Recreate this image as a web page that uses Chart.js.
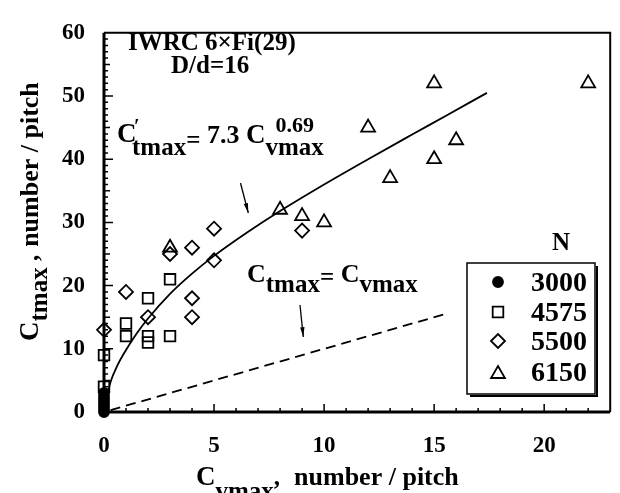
<!DOCTYPE html>
<html>
<head>
<meta charset="utf-8">
<script src="https://cdn.jsdelivr.net/npm/chart.js@4/dist/chart.umd.min.js"></script>
<style>
  html, body { margin: 0; padding: 0; background: #fff; }
  canvas { display: block; }
</style>
</head>
<body>
<canvas id="grafico" width="620" height="493"></canvas>
<script>
// tensile vs. transverse wire breaks per pitch, IWRC 6xFi(29), D/d=16
const n3000X = [0, 0, 0, 0, 0, 0, 0];
const n3000Y = [0, 0.5, 1, 1.5, 2, 2.5, 3];

const n4575X = [0, 0, 1, 1, 2, 2, 2, 3, 3];
const n4575Y = [9, 4, 14, 12, 18, 12, 11, 21, 12];

const n5500X = [0, 1, 2, 3, 4, 4, 4, 5, 5, 9];
const n5500Y = [13, 19, 15, 25, 26, 18, 15, 29, 24, 28.7];

const n6150X = [3, 8, 9, 10, 12, 13, 15, 15, 16, 22];
const n6150Y = [26, 32, 31, 30, 45, 37, 52, 40, 43, 52];

// fitted curve C't = 7.3 Cv^0.69 as traced on the plot
const ajusteX = [0.1, 0.3, 0.6, 1, 1.5, 2, 3, 4, 5, 6.5, 8, 10, 12, 14, 15.5, 17.4];
const ajusteY = [2, 4.8, 7.3, 9.8, 12.5, 14.8, 18.7, 21.9, 24.7, 28.4, 31.8, 36, 40, 43.9, 46.8, 50.5];

// Ct = Cv reference line
const unidadeX = [0.3, 15.5];
const unidadeY = [0.3, 15.5];

const xTicks = [0, 5, 10, 15, 20];
const yTicks = [0, 10, 20, 30, 40, 50, 60];
const legendaTitulo = 'N';

const SERIF = '"Liberation Serif", "DejaVu Serif", serif';

function pontos(xs, ys) {
   return xs.map((x, i) => ({ x: x, y: ys[i] }));
}

function fonte(size) {
   return 'bold ' + size + 'px ' + SERIF;
}

// draws a run of text pieces: [text, size, dx, baselineY]
function textoRico(ctx, x, partes) {
   var cx = x;
   partes.forEach(p => {
      ctx.font = fonte(p[1]);
      cx += p[2] || 0;
      ctx.fillText(p[0], cx, p[3]);
      cx += ctx.measureText(p[0]).width;
   });
   return cx;
}

const eixosPlugin = {
   id: 'eixos',
   afterDatasetsDraw(chart) {
      const ctx = chart.ctx;
      const a = chart.chartArea;
      const sx = chart.scales.x;
      const sy = chart.scales.y;
      ctx.save();
      ctx.strokeStyle = '#000';
      ctx.lineCap = 'butt';

      // frame
      ctx.lineWidth = 2;
      ctx.beginPath();
      ctx.moveTo(a.left, a.top);
      ctx.lineTo(a.right, a.top);
      ctx.lineTo(a.right, a.bottom);
      ctx.stroke();
      ctx.lineWidth = 3;
      ctx.beginPath();
      ctx.moveTo(a.left, a.top);
      ctx.lineTo(a.left, a.bottom);
      ctx.lineTo(a.right, a.bottom);
      ctx.stroke();

      // inward ticks
      ctx.lineWidth = 1.5;
      ctx.beginPath();
      for (let v = 1; v <= 22; v++) {
         const px = sx.getPixelForValue(v);
         const len = v % 5 === 0 ? 8 : 4;
         ctx.moveTo(px, a.bottom);
         ctx.lineTo(px, a.bottom - len);
      }
      for (let v = 1; v < 60; v++) {
         const py = sy.getPixelForValue(v);
         const len = v % 10 === 0 ? 9 : (v % 5 === 0 ? 6 : 4);
         ctx.moveTo(a.left, py);
         ctx.lineTo(a.left + len, py);
      }
      ctx.stroke();
      ctx.restore();
   },
   afterDraw(chart) {
      const ctx = chart.ctx;
      ctx.save();
      ctx.fillStyle = '#000';
      ctx.strokeStyle = '#000';
      ctx.textBaseline = 'alphabetic';
      ctx.textAlign = 'left';

      // axis titles
      textoRico(ctx, 196, [['C', 27, 0, 485], ['vmax', 25, 0, 499], [',', 25, 0, 485], ['number / pitch', 26, 14, 485]]);

      ctx.save();
      ctx.translate(38, 341);
      ctx.rotate(-Math.PI / 2);
      textoRico(ctx, 0, [['C', 27, 0, 0], ['tmax', 25, 0, 9], [' ,', 25, 0, 0], ['number / pitch', 26, 8, 0]]);
      ctx.restore();

      // header
      ctx.font = fonte(25);
      ctx.fillText('IWRC 6\u00D7Fi(29)', 128, 50);
      ctx.fillText('D/d=16', 171, 73);

      // fitted equation
      textoRico(ctx, 117, [['C', 27, 0, 142]]);
      ctx.font = fonte(20);
      ctx.fillText('\u2032', 134, 133);
      var px = textoRico(ctx, 132, [['tmax', 25, 0, 155]]);
      px = textoRico(ctx, px, [['=', 25, 0, 148], [' 7.3 ', 26, 0, 143], ['C', 27, 0, 143]]);
      textoRico(ctx, px, [['vmax', 25, 0, 155]]);
      textoRico(ctx, px + 10, [['0.69', 22, 0, 132]]);

      // unity line label
      textoRico(ctx, 247, [['C', 26, 0, 282], ['tmax', 25, 0, 292], ['=', 25, 0, 285], [' C', 26, 0, 282], ['vmax', 25, 0, 292]]);

      // arrows
      function seta(x1, y1, x2, y2) {
         const ang = Math.atan2(y2 - y1, x2 - x1);
         ctx.lineWidth = 1.3;
         ctx.beginPath();
         ctx.moveTo(x1, y1);
         ctx.lineTo(x2, y2);
         ctx.stroke();
         ctx.beginPath();
         ctx.moveTo(x2, y2);
         ctx.lineTo(x2 - 10 * Math.cos(ang - 0.22), y2 - 10 * Math.sin(ang - 0.22));
         ctx.lineTo(x2 - 10 * Math.cos(ang + 0.22), y2 - 10 * Math.sin(ang + 0.22));
         ctx.closePath();
         ctx.fill();
      }
      seta(240.5, 183, 248.3, 213);
      seta(300, 305, 303.3, 337);

      // legend
      const bx = 467, by = 263, bw = 128, bh = 131;
      ctx.lineWidth = 1.5;
      ctx.strokeRect(bx, by, bw, bh);
      ctx.lineWidth = 2;
      ctx.beginPath();
      ctx.moveTo(bx + 3, by + bh + 2);
      ctx.lineTo(bx + bw + 2, by + bh + 2);
      ctx.lineTo(bx + bw + 2, by + 3);
      ctx.stroke();

      ctx.font = fonte(25);
      ctx.textAlign = 'center';
      ctx.fillText(legendaTitulo, 561, 250);

      const linhas = [282, 312, 341, 372];
      chart.data.datasets.forEach((ds, i) => {
         if (!ds.serie) return;
         const y = linhas[i];
         ctx.fillStyle = ds.backgroundColor;
         ctx.strokeStyle = '#000';
         ctx.lineWidth = ds.borderWidth;
         Chart.helpers.drawPoint(ctx, {
            pointStyle: ds.pointStyle,
            radius: ds.pointRadius,
            borderWidth: ds.borderWidth,
            rotation: 0
         }, 498, ds.pointStyle === 'triangle' ? y + 2 : y);
         ctx.fillStyle = '#000';
         ctx.textAlign = 'right';
         ctx.font = fonte(28);
         ctx.fillText(ds.label, 587, y + 9);
      });
      ctx.restore();
   }
};

function serie(label, xs, ys, estilo, raio, preenchido) {
   return {
      type: 'scatter',
      serie: true,
      label: label,
      data: pontos(xs, ys),
      pointStyle: estilo,
      pointRadius: raio,
      pointHoverRadius: raio,
      borderWidth: 1.8,
      borderColor: '#000',
      backgroundColor: preenchido ? '#000' : 'rgba(0,0,0,0)',
      showLine: false,
      clip: false
   };
}

var ctx = document.getElementById('grafico');
new Chart(ctx, {
   type: 'scatter',
   data: {
      datasets: [
         serie('3000', n3000X, n3000Y, 'circle', 5, true),
         serie('4575', n4575X, n4575Y, 'rect', 7.5, false),
         serie('5500', n5500X, n5500Y, 'rectRot', 7, false),
         serie('6150', n6150X, n6150Y, 'triangle', 8, false),
         {
            type: 'line',
            label: 'ajuste',
            data: pontos(ajusteX, ajusteY),
            borderColor: '#000',
            borderWidth: 1.8,
            pointRadius: 0,
            cubicInterpolationMode: 'monotone',
            fill: false
         },
         {
            type: 'line',
            label: 'unidade',
            data: pontos(unidadeX, unidadeY),
            borderColor: '#000',
            borderWidth: 1.8,
            borderDash: [10, 6],
            pointRadius: 0,
            fill: false
         }
      ]
   },
   options: {
      responsive: false,
      animation: false,
      events: [],
      layout: {
         padding: { left: 0, top: 17, right: 8, bottom: 0 }
      },
      plugins: {
         legend: { display: false },
         tooltip: { enabled: false }
      },
      scales: {
         x: {
            type: 'linear',
            min: 0,
            max: 23,
            afterBuildTicks: s => { s.ticks = xTicks.map(v => ({ value: v })); },
            afterFit: s => { s.height = 81; },
            grid: { display: false, drawTicks: false },
            border: { display: false },
            ticks: {
               color: '#000',
               padding: 20,
               font: { family: SERIF, size: 23, weight: 'bold' }
            }
         },
         y: {
            type: 'linear',
            min: 0,
            max: 60,
            afterBuildTicks: s => { s.ticks = yTicks.map(v => ({ value: v })); },
            afterFit: s => { s.width = 104; },
            grid: { display: false, drawTicks: false },
            border: { display: false },
            ticks: {
               color: '#000',
               padding: 19,
               font: { family: SERIF, size: 23, weight: 'bold' }
            }
         }
      }
   },
   plugins: [eixosPlugin]
});
</script>
</body>
</html>
